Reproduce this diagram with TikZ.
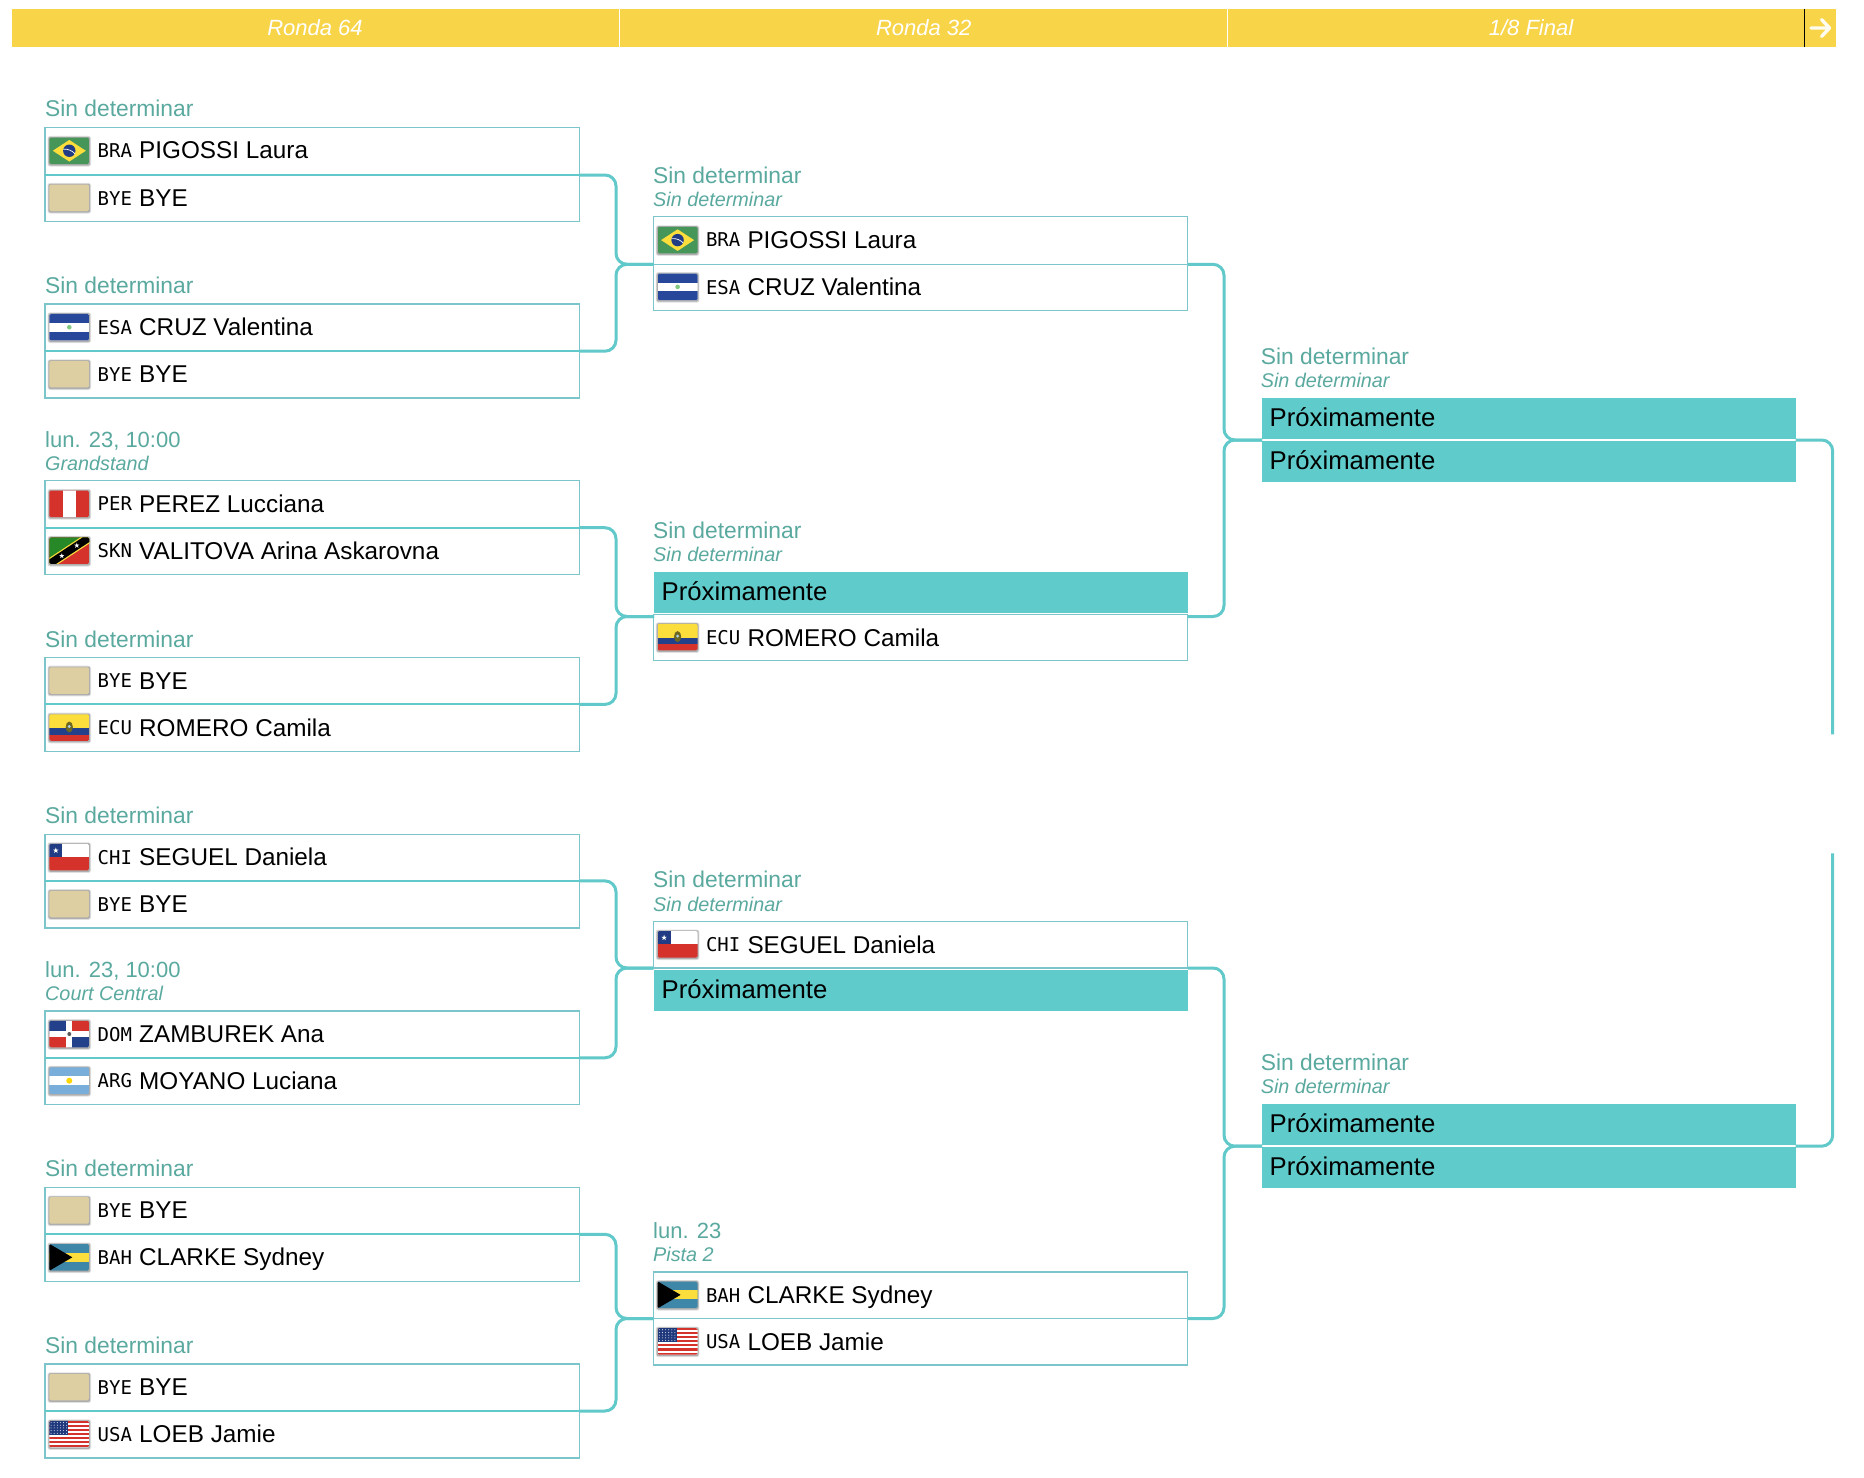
\documentclass[tikz,border=0pt]{standalone}
\usepackage{fontspec}
\setmainfont{Liberation Sans}
\newfontfamily\codefont{DejaVu Sans Mono}
\definecolor{hdryellow}{HTML}{F8D449}
\definecolor{tealfill}{HTML}{5FCBCA}
\definecolor{tealconn}{HTML}{62C9CA}
\definecolor{tealedge}{HTML}{7CC6CB}
\definecolor{labelteal}{HTML}{5AA99F}
\definecolor{byetan}{HTML}{DECFA3}
\definecolor{fgreen}{HTML}{46965A}
\definecolor{fblue}{HTML}{27479B}
\definecolor{fred}{HTML}{D5322B}
\definecolor{fyellow}{HTML}{FBDD3C}
\definecolor{fsky}{HTML}{79AEDB}
\definecolor{faqua}{HTML}{3F87A8}
\tikzset{
  rowbox/.style={draw=tealedge,line width=1.2pt,fill=white,inner sep=0pt,outer sep=0pt,anchor=north west,minimum width=534.5pt},
  proxbox/.style={fill=tealfill,inner sep=0pt,outer sep=0pt,anchor=north west,minimum width=533.5pt},
  nametxt/.style={inner sep=0pt,anchor=base west,font=\fontsize{24.3}{28}\selectfont,text=black},
  proxtxt/.style={inner sep=0pt,anchor=base west,font=\fontsize{25.7}{28}\selectfont,text=black},
  codetxt/.style={inner sep=0pt,anchor=base west,font=\codefont\fontsize{19}{22}\selectfont,text=black},
  datetxt/.style={inner sep=0pt,anchor=base west,font=\fontsize{22.8}{27}\selectfont,text=labelteal},
  timetxt/.style={inner sep=0pt,anchor=base west,font=\fontsize{22}{27}\selectfont,text=labelteal},
  placetxt/.style={inner sep=0pt,anchor=base west,font=\itshape\fontsize{19.8}{24}\selectfont,text=labelteal},
  hdrtxt/.style={inner sep=0pt,anchor=base,font=\itshape\fontsize{22}{26}\selectfont,text=white},
  conn/.style={draw=tealconn,line width=3pt,rounded corners=11pt},
  midline/.style={draw=tealconn,line width=2pt},
}
% flags, drawn round (0,0); size 40 x 26.5
\newcommand{\flagframe}[1]{%
  \fill[black,opacity=.12,rounded corners=2.5pt] (-21.8,-14.8) rectangle (21.8,15.8);
  \fill[black,opacity=.22,rounded corners=2pt] (-20.9,-14) rectangle (20.9,14.8);
  \begin{scope}
    \clip[rounded corners=1.5pt] (-20,-13.25) rectangle (20,13.25);
    #1
  \end{scope}}
\newcommand{\flagstar}[3]{\fill[white,shift={(#1,#2)}] (-90:#3) -- (-234:#3) -- (-18:#3) -- (-162:#3) -- (-306:#3) -- cycle;}
\newcommand{\flagBYE}{\flagframe{\fill[byetan] (-20,-14) rectangle (20,14);}}
\newcommand{\flagBRA}{\flagframe{
  \fill[fgreen] (-20,-14) rectangle (20,14);
  \fill[fyellow] (-16.5,0) -- (0,-10.8) -- (16.5,0) -- (0,10.8) -- cycle;
  \fill[fblue!85!black] (0,0) circle [radius=6.2pt];
  \draw[white,line width=.7pt] (-6,-1.5) .. controls (-1,-2) and (3,0) .. (5.6,3);}}
\newcommand{\flagESA}{\flagframe{
  \fill[white] (-20,-14) rectangle (20,14);
  \fill[fblue] (-20,-14) rectangle (20,-4.4);
  \fill[fblue] (-20,4.4) rectangle (20,14);
  \fill[gray!60!green!70!white] (0,0) circle [radius=2.3pt];}}
\newcommand{\flagPER}{\flagframe{
  \fill[fred] (-20,-14) rectangle (20,14);
  \fill[white] (-6.7,-14) rectangle (6.7,14);}}
\newcommand{\flagSKN}{\flagframe{
  \fill[fred] (-20,-14) rectangle (20,14);
  \fill[green!45!black!85!white] (-20,-14) -- (20,-14) -- (-20,14) -- cycle;
  \draw[fyellow,line width=10pt] (-22,14.5) -- (22,-14.5);
  \draw[black,line width=7.5pt] (-22,14.5) -- (22,-14.5);
  \flagstar{-7.5}{5.2}{2.8}
  \flagstar{7.5}{-5.2}{2.8}}}
\newcommand{\flagECU}{\flagframe{
  \fill[fyellow] (-20,-14) rectangle (20,0.5);
  \fill[fblue!90!black] (-20,0.5) rectangle (20,7);
  \fill[fred] (-20,7) rectangle (20,14);
  \fill[olive!70!black] (0,-0.5) ellipse [x radius=3.6pt,y radius=5.5pt];
  \fill[fsky!60!white] (0,-1) circle [radius=1.6pt];}}
\newcommand{\flagCHI}{\flagframe{
  \fill[white] (-20,-14) rectangle (20,0);
  \fill[fred] (-20,0) rectangle (20,14);
  \fill[fblue!85!black] (-20,-14) rectangle (-7,0);
  \flagstar{-13.5}{-6.6}{3}}}
\newcommand{\flagDOM}{\flagframe{
  \fill[fblue!90!black] (-20,-14) rectangle (0,0);
  \fill[fred] (0,-14) rectangle (20,0);
  \fill[fred] (-20,0) rectangle (0,14);
  \fill[fblue!90!black] (0,0) rectangle (20,14);
  \fill[white] (-3,-14) rectangle (3,14);
  \fill[white] (-20,-2.6) rectangle (20,2.6);
  \fill[gray!70!black] (0,0) circle [radius=2pt];}}
\newcommand{\flagARG}{\flagframe{
  \fill[fsky] (-20,-14) rectangle (20,14);
  \fill[white] (-20,-4.4) rectangle (20,4.4);
  \fill[yellow!75!orange] (0,0) circle [radius=3pt];}}
\newcommand{\flagBAH}{\flagframe{
  \fill[faqua] (-20,-14) rectangle (20,14);
  \fill[fyellow] (-20,-4.4) rectangle (20,4.4);
  \fill[black] (-20,-13.5) -- (3,0) -- (-20,13.5) -- cycle;}}
\newcommand{\flagUSA}{\flagframe{
  \fill[white] (-20,-14) rectangle (20,14);
  \foreach \i in {0,2,...,12}{\fill[fred] (-20,-13.25+2.038*\i) rectangle (20,-13.25+2.038*\i+2.038);}
  \fill[fblue!80!black] (-20,-14) rectangle (-1,1);
  \foreach \i in {0,...,5}{\foreach \j in {0,...,4}{\fill[white!80!fblue] (-18.2+3.1*\i,-11.6+2.7*\j) circle [radius=.55pt];}}}}
% row: name, x, top, height, flag, code, player
\newcommand{\prow}[7]{%
  \node[rowbox,minimum height=#4pt] (#1) at (#2,#3) {};
  \pgfmathsetmacro{\flx}{#2+24.3}\pgfmathsetmacro{\fly}{#3+#4/2-.4}
  \begin{scope}[shift={(\flx,\fly)}]#5\end{scope}
  \pgfmathsetmacro{\cox}{#2+52.5}\pgfmathsetmacro{\coy}{#3+30.1}
  \node[codetxt] (#1code) at (\cox,\coy) {#6};
  \pgfmathsetmacro{\nax}{#2+94}\pgfmathsetmacro{\nay}{#3+31.6}
  \node[nametxt] (#1name) at (\nax,\nay) {#7};}
% teal placeholder: name, x, top, height
\newcommand{\prox}[4]{%
  \node[proxbox,minimum height=#4pt] (#1) at (#2,#3) {};
  \pgfmathsetmacro{\nax}{#2+7.5}\pgfmathsetmacro{\nay}{#3+28.5}
  \node[proxtxt] (#1name) at (\nax,\nay) {Próximamente};}
% labels: name, x, boxtop, text
\newcommand{\lone}[4]{\pgfmathsetmacro{\lby}{#3-10.4}\node[datetxt] (#1) at (#2,\lby) {#4};}
\newcommand{\ltwo}[5]{\pgfmathsetmacro{\lby}{#3-33.5}\node[datetxt] (#1) at (#2,\lby) {#4};
  \pgfmathsetmacro{\lby}{#3-10.4}\node[placetxt] (#1b) at (#2,\lby) {#5};}
\newcommand{\ltime}[5]{\pgfmathsetmacro{\lby}{#3-33.5}\node[timetxt] (#1) at (#2,\lby) {#4};
  \pgfmathsetmacro{\lby}{#3-10.4}\node[placetxt] (#1b) at (#2,\lby) {#5};}
\begin{document}
\begin{tikzpicture}[x=1pt,y=-1pt]
\useasboundingbox (0,0) rectangle (1864,1478);
\fill[white] (0,0) rectangle (1864,1478);
% header
\fill[hdryellow] (12,9) rectangle (1835.5,47);
\draw[white,line width=1pt] (619.5,9) -- (619.5,47);
\draw[white,line width=1pt] (1227.5,9) -- (1227.5,47);
\draw[black,line width=1pt] (1804.6,9) -- (1804.6,47);
\node[hdrtxt] (h1) at (315,35) {Ronda 64};
\node[hdrtxt] (h2) at (923.7,35) {Ronda 32};
\node[hdrtxt] (h3) at (1531,35) {1/8 Final};
\draw[white!92!hdryellow,line width=3.4pt,line cap=round,line join=round] (1811,28) -- (1829,28) (1821.5,19.5) -- (1829.5,28) -- (1821.5,36.5);
% round of 64
\lone{l1}{45}{127.3}{Sin determinar}
\prow{m1a}{45}{127.3}{47.7}{\flagBRA}{BRA}{PIGOSSI Laura}
\prow{m1b}{45}{175}{46.3}{\flagBYE}{BYE}{BYE}
\lone{l2}{45}{304}{Sin determinar}
\prow{m2a}{45}{304}{47.2}{\flagESA}{ESA}{CRUZ Valentina}
\prow{m2b}{45}{351.2}{46.8}{\flagBYE}{BYE}{BYE}
\ltime{l3}{45}{480.7}{lun. 23, 10:00}{Grandstand}
\prow{m3a}{45}{480.7}{47}{\flagPER}{PER}{PEREZ Lucciana}
\prow{m3b}{45}{527.7}{46.8}{\flagSKN}{SKN}{VALITOVA Arina Askarovna}
\lone{l4}{45}{657.4}{Sin determinar}
\prow{m4a}{45}{657.4}{47}{\flagBYE}{BYE}{BYE}
\prow{m4b}{45}{704.4}{47}{\flagECU}{ECU}{ROMERO Camila}
\lone{l5}{45}{834.1}{Sin determinar}
\prow{m5a}{45}{834.1}{46.8}{\flagCHI}{CHI}{SEGUEL Daniela}
\prow{m5b}{45}{880.9}{47}{\flagBYE}{BYE}{BYE}
\ltime{l6}{45}{1011}{lun. 23, 10:00}{Court Central}
\prow{m6a}{45}{1011}{46.8}{\flagDOM}{DOM}{ZAMBUREK Ana}
\prow{m6b}{45}{1057.8}{46.6}{\flagARG}{ARG}{MOYANO Luciana}
\lone{l7}{45}{1187.3}{Sin determinar}
\prow{m7a}{45}{1187.3}{47}{\flagBYE}{BYE}{BYE}
\prow{m7b}{45}{1234.3}{46.8}{\flagBAH}{BAH}{CLARKE Sydney}
\lone{l8}{45}{1364}{Sin determinar}
\prow{m8a}{45}{1364}{47}{\flagBYE}{BYE}{BYE}
\prow{m8b}{45}{1411}{47}{\flagUSA}{USA}{LOEB Jamie}
% round of 32
\ltwo{l9}{653}{216.7}{Sin determinar}{Sin determinar}
\prow{m9a}{653.3}{216.7}{47.6}{\flagBRA}{BRA}{PIGOSSI Laura}
\prow{m9b}{653.3}{264.3}{46}{\flagESA}{ESA}{CRUZ Valentina}
\ltwo{l10}{653}{572}{Sin determinar}{Sin determinar}
\prox{m10a}{654}{572}{40.7}
\prow{m10b}{653.3}{614.7}{45.6}{\flagECU}{ECU}{ROMERO Camila}
\ltwo{l11}{653}{921.4}{Sin determinar}{Sin determinar}
\prow{m11a}{653.3}{921.4}{46.6}{\flagCHI}{CHI}{SEGUEL Daniela}
\prox{m11b}{654}{970}{40.7}
\ltime{l12}{653}{1272}{lun. 23}{Pista 2}
\prow{m12a}{653.3}{1272}{46.5}{\flagBAH}{BAH}{CLARKE Sydney}
\prow{m12b}{653.3}{1318.5}{46.5}{\flagUSA}{USA}{LOEB Jamie}
% round of 16
\ltwo{l13}{1260.6}{398}{Sin determinar}{Sin determinar}
\prox{m13a}{1262}{398}{40.7}
\prox{m13b}{1262}{441}{40.7}
\ltwo{l14}{1260.6}{1104.2}{Sin determinar}{Sin determinar}
\prox{m14a}{1262}{1104.2}{40.7}
\prox{m14b}{1262}{1147.2}{40.7}
% thick mid rules of the first round
\foreach \m in {m1a,m2a,m3a,m4a,m5a,m6a,m7a,m8a}{\draw[midline] (\m.south west) -- (\m.south east);}
% junctions and free ends
\coordinate (j1) at (616,264.3);
\coordinate (j2) at (616,616.5);
\coordinate (j3) at (616,968);
\coordinate (j4) at (616,1318.5);
\coordinate (j5) at (1224,440);
\coordinate (j6) at (1224,1146.2);
\coordinate (c10l) at (654,616.5);
\coordinate (c10r) at (1187.7,616.5);
\coordinate (c13l) at (1262,440);
\coordinate (c13r) at (1795.5,440);
\coordinate (c14l) at (1262,1146.2);
\coordinate (c14r) at (1795.5,1146.2);
\coordinate (e1) at (1832.7,734.3);
\coordinate (e2) at (1832.7,853.3);
% connectors
\draw[conn] (m1a.south east) -| (j1) -- (m9a.south west);
\draw[conn] (m2a.south east) -| (j1) -- (m9a.south west);
\draw[conn] (m3a.south east) -| (j2) -- (c10l);
\draw[conn] (m4a.south east) -| (j2) -- (c10l);
\draw[conn] (m5a.south east) -| (j3) -- (m11a.south west);
\draw[conn] (m6a.south east) -| (j3) -- (m11a.south west);
\draw[conn] (m7a.south east) -| (j4) -- (m12a.south west);
\draw[conn] (m8a.south east) -| (j4) -- (m12a.south west);
\draw[conn] (m9a.south east) -| (j5) -- (c13l);
\draw[conn] (c10r) -| (j5) -- (c13l);
\draw[conn] (m11a.south east) -| (j6) -- (c14l);
\draw[conn] (m12a.south east) -| (j6) -- (c14l);
\draw[conn] (c13r) -| (e1);
\draw[conn] (c14r) -| (e2);
\end{tikzpicture}
\end{document}
